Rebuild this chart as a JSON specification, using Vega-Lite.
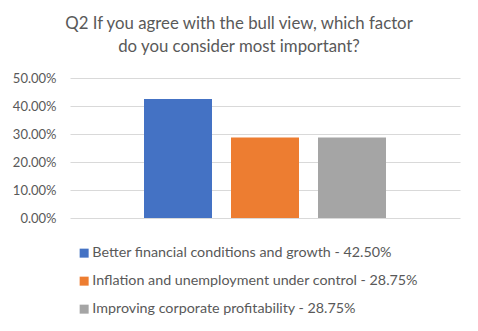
{
  "$schema": "https://vega.github.io/schema/vega-lite/v6.json",
  "autosize": {"type": "none"},
  "width": 390,
  "height": 140,
  "padding": {"left": 70, "top": 78, "right": 18, "bottom": 113},
  "background": "white",
  "title": {
    "text": ["Q2 If you agree with the bull view, which factor", "do you consider most important?"],
    "anchor": "middle",
    "dx": -26,
    "offset": 16,
    "font": "Lato",
    "fontSize": 16.8,
    "fontWeight": "normal",
    "color": "#595959",
    "lineHeight": 23
  },
  "data": {
    "values": [
      {"factor": "Better financial conditions and growth - 42.50%", "share": 0.425},
      {"factor": "Inflation and unemployment under control - 28.75%", "share": 0.2875},
      {"factor": "Improving corporate profitability - 28.75%", "share": 0.2875}
    ]
  },
  "mark": {"type": "bar"},
  "encoding": {
    "x": {
      "field": "factor",
      "type": "nominal",
      "sort": null,
      "axis": null,
      "scale": {"paddingInner": 0.2184, "paddingOuter": 0.8506}
    },
    "y": {
      "field": "share",
      "type": "quantitative",
      "scale": {"domain": [0, 0.5]},
      "axis": {
        "title": null,
        "values": [0, 0.1, 0.2, 0.3, 0.4, 0.5],
        "format": ".2%",
        "domain": false,
        "ticks": false,
        "gridColor": "#D9D9D9",
        "gridWidth": 1,
        "labelColor": "#595959",
        "labelFont": "Lato",
        "labelFontSize": 13,
        "labelPadding": 14
      }
    },
    "color": {
      "field": "factor",
      "type": "nominal",
      "sort": null,
      "scale": {"range": ["#4472C4", "#ED7D31", "#A5A5A5"]},
      "legend": {
        "title": null,
        "orient": "none",
        "legendX": 7,
        "legendY": 168,
        "direction": "vertical",
        "symbolType": "square",
        "symbolSize": 81,
        "symbolStrokeWidth": 0,
        "labelFont": "Lato",
        "labelFontSize": 14.3,
        "labelColor": "#595959",
        "labelLimit": 400,
        "labelOffset": 1,
        "rowPadding": 13,
        "padding": 0
      }
    }
  },
  "config": {"view": {"stroke": null}}
}
